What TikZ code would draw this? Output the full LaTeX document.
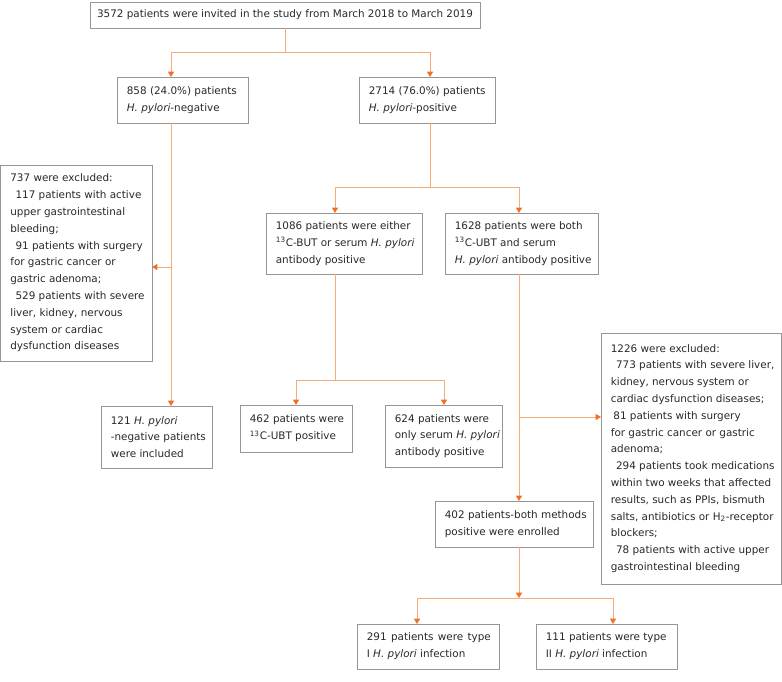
\documentclass[tikz,border=0pt]{standalone}
\usepackage{fontspec}
\setmainfont{DejaVu Sans}
\usetikzlibrary{arrows.meta,calc}
\definecolor{lnc}{RGB}{248,170,120}
\definecolor{hdc}{RGB}{240,112,40}
\definecolor{bdc}{RGB}{150,150,150}
\definecolor{txc}{RGB}{40,40,40}
\newcommand\flowbox[6]{%
 \pgfmathsetmacro\bw{(#4-#2)*0.75}%
 \pgfmathsetmacro\bh{(#5-#3)*0.75}%
 \node[flowbx, minimum width=\bw pt, minimum height=\bh pt] (#1) at (#2,#3) {};
 \node[flowtxt] (#1-t) at ($(#1.west)+(7.2pt,0)$) {#6};}
\tikzset{
 flowbx/.style={draw=bdc, line width=0.75pt, anchor=north west, inner sep=0pt, outer sep=0pt},
 flowtxt/.style={anchor=west, inner sep=0pt, align=left, font=\fontsize{7.8}{12.6}\selectfont, text=txc},
 ln/.style={draw=lnc, line width=0.75pt},
 arr/.style={ln, -{Triangle[width=4.5pt,length=4pt,color=hdc,fill=hdc]}}
}
\begin{document}
\begin{tikzpicture}[x=0.75pt,y=-0.75pt]
\useasboundingbox (0,0) rectangle (782,682);
% boxes
\node[flowbx, minimum width=292.5pt, minimum height=19.5pt, font=\fontsize{7.8}{12.6}\selectfont, text=txc] (top) at (90,2) {3572 patients were invited in the study from March 2018 to March 2019};
\flowbox{neg}{117}{77}{248}{123}{858 (24.0\%) patients\\ \textit{H. pylori}-negative}
\flowbox{pos}{359}{77}{495}{123}{2714 (76.0\%) patients\\ \textit{H. pylori}-positive}
\flowbox{exa}{0.5}{165}{152}{361}{737 were excluded:\\ \hspace*{0.5em}117 patients with active\\ upper gastrointestinal\\ bleeding;\\ \hspace*{0.5em}91 patients with surgery\\ for gastric cancer or\\ gastric adenoma;\\ \hspace*{0.5em}529 patients with severe\\ liver, kidney, nervous\\ system or cardiac\\ dysfunction diseases}
\flowbox{either}{266}{213}{422}{274}{1086 patients were either\\ \textsuperscript{13}C-BUT or serum \textit{H. pylori}\\ antibody positive}
\flowbox{both}{445}{213}{598}{274}{1628 patients were both\\ \textsuperscript{13}C-UBT and serum\\ \textit{H. pylori} antibody positive}
\flowbox{inc}{101}{406}{212}{468}{121 \textit{H. pylori}\\ -negative patients\\ were included}
\flowbox{ubt}{240}{405}{352}{452}{462 patients were\\ \textsuperscript{13}C-UBT positive}
\flowbox{ser}{385}{405}{502}{467}{624 patients were\\ only serum \textit{H. pylori}\\ antibody positive}
\flowbox{exb}{601}{333}{781.5}{584}{1226 were excluded:\\ \hspace*{0.5em}773 patients with severe liver,\\ kidney, nervous system or\\ cardiac dysfunction diseases;\\ \hspace*{0.25em}81 patients with surgery\\ for gastric cancer or gastric\\ adenoma;\\ \hspace*{0.5em}294 patients took medications\\ within two weeks that affected\\ results, such as PPIs, bismuth\\ salts, antibiotics or H\textsubscript{2}-receptor\\ blockers;\\ \hspace*{0.5em}78 patients with active upper\\ gastrointestinal bleeding}
\flowbox{enr}{435}{501}{593}{547}{402 patients-both methods\\ positive were enrolled}
\flowbox{typea}{357}{624}{499}{669}{\makebox[93pt][s]{291 patients were type}\\ I \textit{H. pylori} infection}
\flowbox{typeb}{536}{624}{677}{669}{111 patients were type\\ II \textit{H. pylori} infection}
% column coordinates
\coordinate (cL) at (171,0);
\coordinate (cM) at (430,0);
\coordinate (c1) at (335,0);
\coordinate (c2) at (519,0);
\coordinate (c3) at (296,0);
\coordinate (c4) at (444,0);
\coordinate (c5) at (417,0);
\coordinate (c6) at (613,0);
% junctions
\coordinate (j1) at (285,52);
\coordinate (j2) at (430,187);
\coordinate (j3) at (335,380);
\coordinate (j4) at (519,598);
\coordinate (b1) at (171,267);
\coordinate (b2) at (519,417);
% connectors
\draw[ln] (top.south -| j1) -- (j1);
\draw[arr] (j1) -| (cL |- neg.north);
\draw[arr] (j1) -| (cM |- pos.north);
\draw[arr] (neg.south -| cL) -- (inc.north -| cL);
\draw[arr] (b1) -- (b1 -| exa.east);
\draw[ln] (pos.south -| cM) -- (j2);
\draw[arr] (j2) -| (c1 |- either.north);
\draw[arr] (j2) -| (c2 |- both.north);
\draw[ln] (either.south -| c1) -- (j3);
\draw[arr] (j3) -| (c3 |- ubt.north);
\draw[arr] (j3) -| (c4 |- ser.north);
\draw[arr] (both.south -| c2) -- (enr.north -| c2);
\draw[arr] (b2) -- (b2 -| exb.west);
\draw[arr] (enr.south -| c2) -- (j4);
\draw[arr] (j4) -| (c5 |- typea.north);
\draw[arr] (j4) -| (c6 |- typeb.north);
\end{tikzpicture}
\end{document}
